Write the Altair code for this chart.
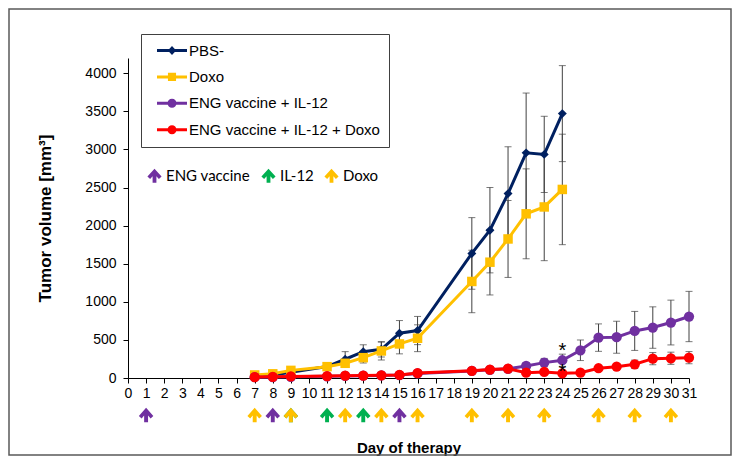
import altair as alt
import pandas as pd

# ---------------- data ----------------
series_names = ["PBS-", "Doxo", "ENG vaccine + IL-12", "ENG vaccine + IL-12 + Doxo"]
series_colors = ["#002060", "#FFC000", "#7030A0", "#FF0000"]
marker_shapes = ["diamond", "square", "circle", "circle"]
marker_sizes = [80, 90, 105, 105]

days_a = [7, 8, 9, 11, 12, 13, 14, 15, 16, 19, 20, 21, 22, 23, 24]
pbs = [25, 40, 75, 150, 246, 346, 377, 588, 623, 1635, 1940, 2420, 2955, 2935, 3470]
pbs_err = [8, 10, 15, 25, 100, 90, 100, 166, 185, 470, 560, 615, 785, 500, 630]
doxo = [40, 55, 100, 149, 193, 267, 355, 447, 522, 1267, 1520, 1825, 2155, 2245, 2475]
doxo_err = [8, 10, 15, 20, 40, 70, 118, 130, 176, 410, 430, 505, 590, 705, 725]

days_b = [7, 8, 9, 11, 12, 13, 14, 15, 16, 19, 20, 21, 22, 23, 24, 25, 26, 27, 28, 29, 30, 31]
eng = [10, 12, 16, 22, 27, 30, 33, 38, 60, 92, 108, 120, 158, 202, 233, 364, 530, 535, 618, 662, 728, 807]
eng_err = [5, 5, 5, 8, 8, 8, 10, 10, 15, 15, 20, 25, 40, 55, 80, 135, 180, 210, 256, 272, 294, 330]
eng_doxo = [13, 15, 20, 26, 30, 32, 35, 40, 65, 95, 110, 122, 70, 79, 62, 70, 128, 149, 180, 254, 259, 267]
eng_doxo_err = [5, 5, 5, 8, 8, 8, 10, 10, 15, 15, 20, 25, 25, 30, 30, 25, 40, 40, 55, 80, 80, 80]

treat_names = ["ENG vaccine", "IL-12", "Doxo"]
treat_colors = ["#7030A0", "#00B050", "#FFC000"]
eng_days = [1, 8, 15]
il12_days = [9, 11, 13]
doxo_days = [7, 9, 12, 14, 16, 19, 21, 23, 26, 28, 30]

star_days = [24, 24]
star_vals = [270, -5]

x_ticks = list(range(0, 32))
y_ticks = [0, 500, 1000, 1500, 2000, 2500, 3000, 3500, 4000]

# ---------------- tables ----------------
rows = []
for name, days, vals, errs in [
    (series_names[0], days_a, pbs, pbs_err),
    (series_names[1], days_a, doxo, doxo_err),
    (series_names[2], days_b, eng, eng_err),
    (series_names[3], days_b, eng_doxo, eng_doxo_err),
]:
    for d, v, e in zip(days, vals, errs):
        rows.append({"series": name, "day": d, "vol": v, "lo": v - e, "hi": v + e})
df = pd.DataFrame(rows)

arr_rows = []
for name, ds in [("IL-12", il12_days), ("ENG vaccine", eng_days), ("Doxo", doxo_days)]:
    for d in ds:
        arr_rows.append({"day": d, "treatment": name})
arrows_df = pd.DataFrame(arr_rows)

stars_df = pd.DataFrame({"day": star_days, "vol": star_vals, "t": ["*", "*"]})

# ---------------- encodings ----------------
FONT = "Liberation Sans"
x_enc = alt.X(
    "day:Q",
    scale=alt.Scale(domain=[0, 31], nice=False, zero=False),
    axis=alt.Axis(values=x_ticks, title="Day of therapy", labelOverlap=False, labelFlush=False,
                  format="d"),
)
YSCALE = alt.Scale(domain=[0, 4200], nice=False)
YAXIS = alt.Axis(values=y_ticks, title="Tumor volume [mm³]", format="d", labelOverlap=False,
                 labelFlush=False, titleFontSize=17)


def yq(field):
    return alt.Y(field, type="quantitative", scale=YSCALE, axis=YAXIS, title="Tumor volume [mm³]")


layers = []

# frame around the whole figure
frame = alt.Chart(pd.DataFrame({"k": [0]})).mark_rect(
    fill="white", fillOpacity=0, stroke="#5a5a5a", strokeWidth=1.5
).encode(x=alt.value(-119), x2=alt.value(603), y=alt.value(-49), y2=alt.value(397))
layers.append(frame)

# error bars
layers.append(alt.Chart(df).mark_rule(color="#404040", strokeWidth=1).encode(
    x=x_enc, y=yq("lo"), y2="hi:Q"))
layers.append(alt.Chart(df).mark_tick(orient="horizontal", size=7, thickness=1, color="#404040").encode(
    x=x_enc, y=yq("lo")))
layers.append(alt.Chart(df).mark_tick(orient="horizontal", size=7, thickness=1, color="#404040").encode(
    x=x_enc, y=yq("hi")))

# series lines + markers
for name, col, shp, sz in zip(series_names, series_colors, marker_shapes, marker_sizes):
    sub = df[df["series"] == name]
    layers.append(alt.Chart(sub).mark_line(color=col, strokeWidth=3).encode(x=x_enc, y=yq("vol")))
    layers.append(alt.Chart(sub).mark_point(shape=shp, filled=True, size=sz, color=col, opacity=1).encode(
        x=x_enc, y=yq("vol")))

# legend carrier (invisible marks; legend shows line + marker)
LINE = "M-1,-0.1 L1,-0.1 L1,0.1 L-1,0.1 Z "
legend_paths = [
    LINE + "M0,-0.3 L0.28,0 L0,0.3 L-0.28,0 Z",
    LINE + "M-0.27,-0.27 L0.27,-0.27 L0.27,0.27 L-0.27,0.27 Z",
    LINE + "M-0.3,0 A0.3,0.3 0 1,1 0.3,0 A0.3,0.3 0 1,1 -0.3,0 Z",
    LINE + "M-0.3,0 A0.3,0.3 0 1,1 0.3,0 A0.3,0.3 0 1,1 -0.3,0 Z",
]
LEG = alt.Legend(
    title=None, orient="none", legendX=13, legendY=-24,
    symbolSize=900, symbolStrokeWidth=0, symbolOpacity=1,
    labelFont=FONT, labelFontSize=15, labelColor="black", labelOffset=2, labelLimit=400,
    strokeColor="#404040", padding=9, rowPadding=10.4, clipHeight=15, symbolOffset=7,
)
layers.append(alt.Chart(df).mark_point(filled=True, opacity=0).encode(
    x=x_enc, y=yq("vol"),
    color=alt.Color("series:N", scale=alt.Scale(domain=series_names, range=series_colors), legend=LEG),
    shape=alt.Shape("series:N", scale=alt.Scale(domain=series_names, range=legend_paths), legend=LEG),
))

# treatment arrows below the axis
ARROW = "M0,-1 L1,0.12 L0.62,0.46 L0.27,0.06 L0.27,1 L-0.27,1 L-0.27,0.06 L-0.62,0.46 L-1,0.12 Z"
ARR_LEG = alt.Legend(
    title=None, orient="none", direction="horizontal", legendX=19, legendY=110,
    symbolType=ARROW, symbolSize=200, symbolStrokeWidth=0, symbolOpacity=1,
    labelFont="Lato", labelFontSize=15, labelColor="black", labelOffset=4, labelLimit=300,
    columnPadding=10, padding=0,
)
layers.append(alt.Chart(arrows_df).mark_point(shape=ARROW, filled=True, size=210, opacity=1).encode(
    x=x_enc, y=alt.datum(-487),
    fill=alt.Fill("treatment:N", scale=alt.Scale(domain=treat_names, range=treat_colors), legend=ARR_LEG),
))

# significance stars
layers.append(alt.Chart(stars_df).mark_text(font=FONT, fontSize=20, color="black", baseline="alphabetic").encode(
    x=x_enc, y=yq("vol"), text="t:N"))

chart = alt.layer(*layers).properties(
    width=561, height=320,
    autosize=alt.AutoSizeParams(type="none"),
    padding={"left": 120, "top": 50, "right": 43, "bottom": 78},
    background="white",
).configure_view(strokeWidth=0).configure_axis(
    grid=False, domainColor="black", tickColor="black", tickSize=5,
    labelFont=FONT, labelFontSize=14, labelColor="black",
    titleFont=FONT, titleFontSize=15, titleFontWeight="bold", titleColor="black",
).configure_axisX(labelPadding=3, titlePadding=40, labelOverlap=False).configure_axisY(
    labelPadding=7, titlePadding=30, labelOverlap=False, tickCount=9)

chart.save("out.html", embed_options={"renderer": "svg", "actions": False})
